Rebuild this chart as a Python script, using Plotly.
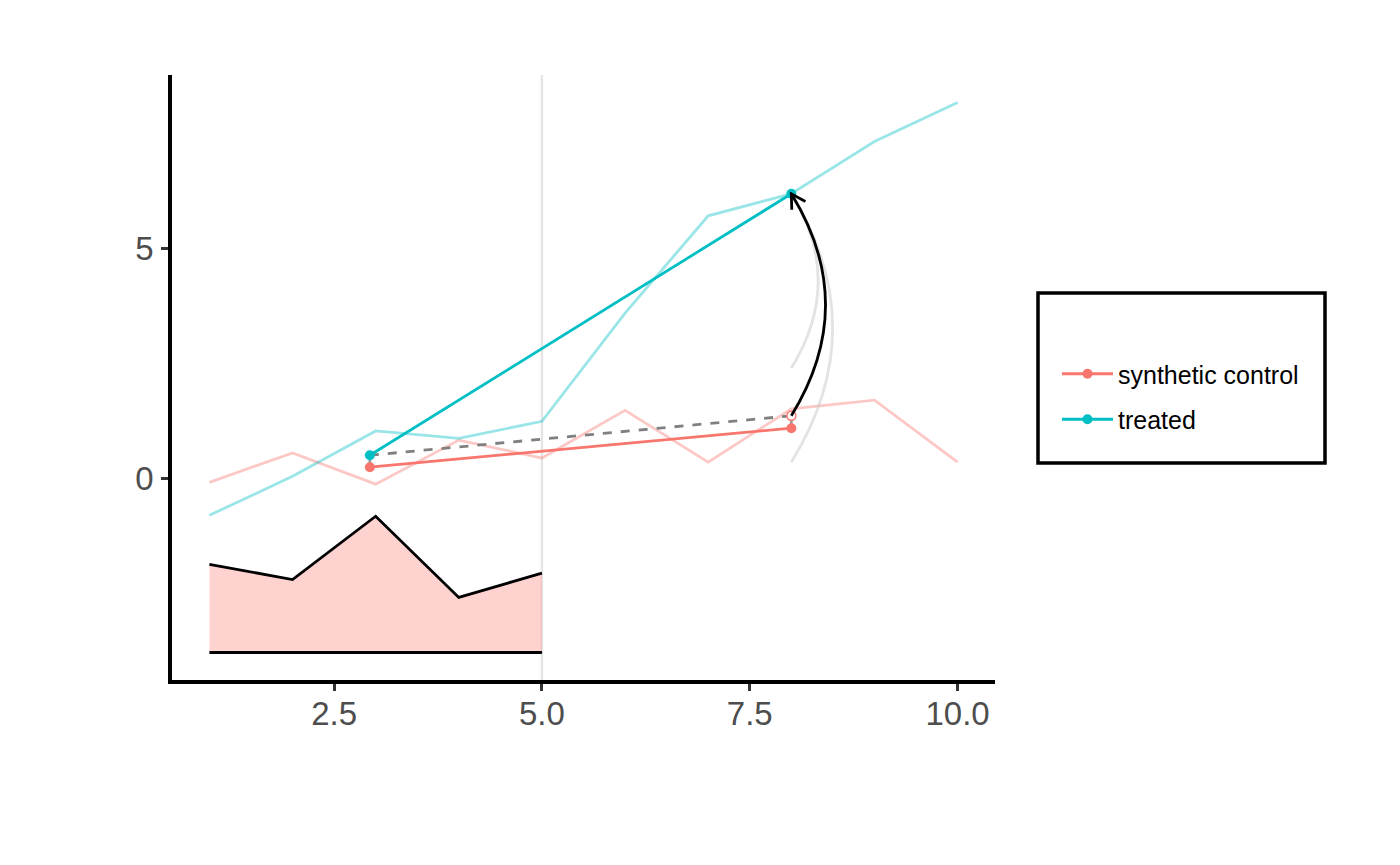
import numpy as np
import plotly.graph_objects as go

# time series (faded background lines)
time = [1, 2, 3, 4, 5, 6, 7, 8, 9, 10]
treated = [-0.81, 0.04, 1.03, 0.87, 1.24, 3.6, 5.72, 6.2, 7.34, 8.19]
synthetic = [-0.09, 0.55, -0.13, 0.83, 0.44, 1.48, 0.35, 1.51, 1.7, 0.35]

# pre-treatment gap (shaded area)
gap_time = [1, 2, 3, 4, 5]
gap_values = [-1.88, -2.21, -0.83, -2.6, -2.07]
gap_base = -3.8
treatment_time = 5

# the two highlighted periods
period_x = [2.93, 8]
treated_pts = [0.5, 6.2]
synth_pts = [0.24, 1.09]
adjusted_pts = [0.5, 1.36]   # synthetic shifted by the pre-period gap
ghost_starts = [2.4, 0.35]   # faded arcs left from earlier frames

RED = "#F8766D"
CYAN = "#00BFC4"
LW = 2.8

W, H = 1400, 865
margin = dict(l=164, r=413, t=67, b=193)
xr = [0.55, 10.45]
yr = [-4.4, 8.79]
pw = W - margin["l"] - margin["r"]
ph = H - margin["t"] - margin["b"]
px_x = pw / (xr[1] - xr[0])
px_y = ph / (yr[1] - yr[0])

fig = go.Figure()

fig.add_trace(go.Scatter(x=time, y=synthetic, mode="lines",
                         line=dict(color="rgba(248,118,109,0.4)", width=LW),
                         showlegend=False, hoverinfo="skip"))
fig.add_trace(go.Scatter(x=time, y=treated, mode="lines",
                         line=dict(color="rgba(0,191,196,0.4)", width=LW),
                         showlegend=False, hoverinfo="skip"))

# shaded gap
fig.add_trace(go.Scatter(x=gap_time, y=[gap_base] * len(gap_time), mode="lines",
                         line=dict(color="black", width=LW), showlegend=False))
fig.add_trace(go.Scatter(x=gap_time, y=gap_values, mode="lines", fill="tonexty",
                         fillcolor="rgba(248,118,109,0.33)",
                         line=dict(color="black", width=LW), showlegend=False))

# small connectors between points
for i in range(2):
    fig.add_trace(go.Scatter(x=[period_x[i], period_x[i]],
                             y=[synth_pts[i], adjusted_pts[i]], mode="lines",
                             line=dict(color="rgba(90,90,90,0.6)", width=LW),
                             showlegend=False))

fig.add_trace(go.Scatter(x=period_x, y=adjusted_pts, mode="lines",
                         line=dict(color="#808080", width=LW, dash="dash"),
                         showlegend=False))

fig.add_trace(go.Scatter(x=period_x, y=synth_pts, mode="lines+markers",
                         name="synthetic control", legendgroup="a",
                         line=dict(color=RED, width=LW),
                         marker=dict(color=RED, size=10)))
fig.add_trace(go.Scatter(x=period_x, y=treated_pts, mode="lines+markers",
                         name="treated", legendgroup="b",
                         line=dict(color=CYAN, width=LW),
                         marker=dict(color=CYAN, size=10)))

fig.add_trace(go.Scatter(x=[period_x[1]], y=[adjusted_pts[1]], mode="markers",
                         marker=dict(color="white", size=9,
                                     line=dict(color=RED, width=1.5)),
                         showlegend=False))


def curve_path(x0, y0, x1, y1, k=0.308):
    # quadratic curve bulging to the right, bulge proportional to length in px
    length = np.hypot((x1 - x0) * px_x, (y1 - y0) * px_y)
    cx = (x0 + x1) / 2 + k * length / px_x
    cy = (y0 + y1) / 2
    return cx, cy, f"M {x0},{y0} Q {cx},{cy} {x1},{y1}"


shapes = [dict(type="line", xref="x", yref="paper", x0=treatment_time,
               x1=treatment_time, y0=0, y1=1, layer="below",
               line=dict(color="#e5e5e5", width=2.5))]

for ys in ghost_starts:
    _, _, p = curve_path(period_x[1], ys, period_x[1], treated_pts[1])
    shapes.append(dict(type="path", path=p, xref="x", yref="y",
                       line=dict(color="rgba(200,200,200,0.5)", width=LW)))

cx, cy, p = curve_path(period_x[1], adjusted_pts[1], period_x[1], treated_pts[1])
shapes.append(dict(type="path", path=p, xref="x", yref="y",
                   line=dict(color="black", width=LW)))

# open arrow head
tx, ty = period_x[1], treated_pts[1]
dx, dy = (cx - tx) * px_x, (cy - ty) * px_y
ang = np.arctan2(dy, dx)
wings = []
for s in (-1, 1):
    a = ang + s * np.radians(30)
    wings.append((tx + 16 * np.cos(a) / px_x, ty + 16 * np.sin(a) / px_y))
shapes.append(dict(type="path", xref="x", yref="y",
                   path=f"M {wings[0][0]},{wings[0][1]} L {tx},{ty} L {wings[1][0]},{wings[1][1]}",
                   line=dict(color="black", width=LW)))

# legend frame
shapes.append(dict(type="rect", xref="paper", yref="paper",
                   x0=(1030 - margin["l"]) / pw, x1=(1317 - margin["l"]) / pw,
                   y0=(H - margin["b"] - 455) / ph, y1=(H - margin["b"] - 285) / ph,
                   line=dict(color="black", width=3.5)))

axis_common = dict(showgrid=False, zeroline=False, showline=True,
                   linecolor="black", linewidth=3.5, ticks="outside",
                   ticklen=7, tickwidth=3, tickcolor="#333333",
                   tickfont=dict(family="Liberation Sans, Arial", size=33,
                                 color="#4d4d4d"))

fig.update_xaxes(range=xr, tickvals=[2.5, 5, 7.5, 10],
                 ticktext=["2.5", "5.0", "7.5", "10.0"],
                 ticklabelstandoff=-5, **axis_common)
fig.update_yaxes(range=yr, tickvals=[0, 5], ticktext=["0", "5"],
                 ticklabelstandoff=1, **axis_common)

fig.update_layout(
    width=W, height=H, margin=margin,
    plot_bgcolor="white", paper_bgcolor="white",
    shapes=shapes,
    legend=dict(x=(1049 - margin["l"]) / pw, y=(H - margin["b"] - 343) / ph,
                xanchor="left", yanchor="top", traceorder="grouped",
                tracegroupgap=10, itemwidth=51, bgcolor="rgba(0,0,0,0)",
                font=dict(family="Liberation Sans, Arial", size=25,
                          color="black")),
)

fig.write_html("out.html")
